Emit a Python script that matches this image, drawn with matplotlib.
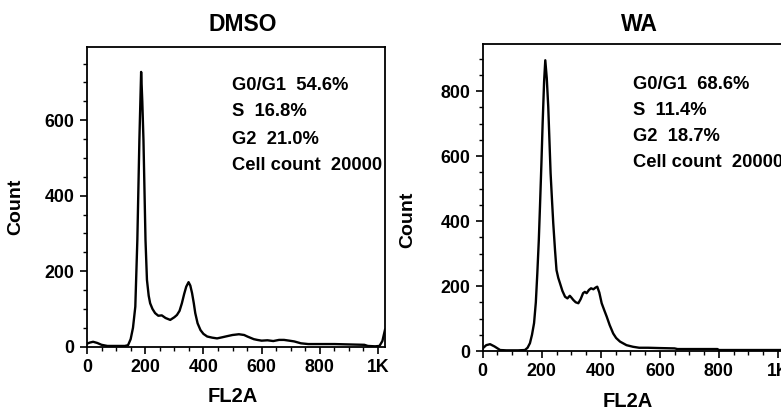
import matplotlib
matplotlib.use("Agg")
import matplotlib.pyplot as plt
from matplotlib.ticker import MultipleLocator, FixedLocator

plt.rcParams['font.family'] = ['Liberation Sans', 'DejaVu Sans']
plt.rcParams['font.weight'] = 'bold'

# ---- data ----
dmso_x = [0, 10, 21, 35, 50, 70, 100, 130, 141, 150, 158, 166, 173, 180, 186, 190, 194,
          201, 206, 212, 217, 225, 234, 245, 257, 270, 286, 300, 309, 318, 326, 334, 341,
          349, 355, 361, 367, 372, 380, 390, 400, 413, 430, 447, 465, 482, 500, 522, 540,
          551, 573, 585, 600, 620, 640, 660, 677, 695, 712, 735, 760, 800, 850, 900, 953,
          965, 990, 1005, 1015, 1024]
dmso_y = [8, 11, 13, 10, 5, 2, 2, 2, 4, 20, 50, 106, 283, 548, 728, 650, 548,
          283, 177, 135, 115, 100, 89, 82, 83, 76, 71, 78, 84, 95, 115, 140, 159,
          171, 162, 142, 115, 89, 62, 44, 34, 27, 24, 22, 25, 28, 31, 33, 31,
          27, 20, 18, 16, 17, 15, 18, 18, 16, 14, 9, 7, 7, 7, 6, 5,
          2, 1, 2, 15, 45]

wa_x = [0, 12, 25, 40, 59, 80, 120, 143, 152, 160, 167, 174, 180, 185, 190, 194, 199,
        203, 208, 212, 217, 222, 226, 230, 235, 239, 245, 250, 256, 262, 270, 279, 287,
        295, 300, 307, 315, 324, 332, 340, 346, 352, 360, 367, 375, 382, 388, 395, 403,
        412, 420, 430, 442, 452, 465, 487, 509, 530, 560, 600, 650, 660, 795, 800, 900,
        1024]
wa_y = [8, 18, 21, 14, 3, 2, 2, 3, 10, 24, 50, 86, 150, 239, 340, 444, 580,
        700, 830, 895, 840, 752, 650, 547, 460, 393, 310, 249, 225, 208, 185, 167, 162,
        170, 165, 157, 150, 147, 160, 178, 182, 178, 188, 193, 190, 195, 198, 180, 147,
        125, 106, 80, 54, 40, 29, 18, 13, 10, 10, 9, 8, 6, 6, 3, 3,
        3]

titles = ["DMSO", "WA"]
stats = [["G0/G1  54.6%", "S  16.8%", "G2  21.0%", "Cell count  20000"],
         ["G0/G1  68.6%", "S  11.4%", "G2  18.7%", "Cell count  20000"]]
xtick_vals = [0, 200, 400, 600, 800, 1000]
xtick_labels = ["0", "200", "400", "600", "800", "1K"]
ytick_sets = [[0, 200, 400, 600], [0, 200, 400, 600, 800]]

W, H = 781, 411
fig = plt.figure(figsize=(W / 100, H / 100), dpi=100)

def px_axes(l, t, r, b):
    return fig.add_axes([l / W, 1 - b / H, (r - l) / W, (b - t) / H])

ax1 = px_axes(87, 47, 385, 346.7)
ax2 = px_axes(482.7, 44, 785, 351)

cfg = [
    dict(ax=ax1, x=dmso_x, y=dmso_y, ylim=794, title_xy=(0.522, 1.075),
         stat_x=0.485, stat_y=[0.873, 0.784, 0.690, 0.606],
         ylab=(-0.21, 0.466), xlab=(0.49, -0.135)),
    dict(ax=ax2, x=wa_x, y=wa_y, ylim=945, title_xy=(0.52, 1.062),
         stat_x=0.498, stat_y=[0.868, 0.782, 0.699, 0.613],
         ylab=(-0.22, 0.427), xlab=(0.48, -0.135)),
]

for i, c in enumerate(cfg):
    ax = c['ax']
    ax.plot(c['x'], c['y'], color='black', lw=1.7, clip_on=True)
    ax.set_xlim(0, 1024)
    ax.set_ylim(0, c['ylim'])
    ax.xaxis.set_major_locator(FixedLocator(xtick_vals))
    ax.set_xticklabels(xtick_labels)
    ax.xaxis.set_minor_locator(MultipleLocator(50))
    ax.yaxis.set_major_locator(FixedLocator(ytick_sets[i]))
    ax.yaxis.set_minor_locator(MultipleLocator(50))
    ax.tick_params(which='major', direction='out', length=5, width=1.2,
                   labelsize=12.8, pad=4)
    ax.tick_params(which='minor', direction='out', length=3, width=1.0)
    for lab in ax.get_xticklabels() + ax.get_yticklabels():
        lab.set_fontweight('bold')
    for s in ax.spines.values():
        s.set_linewidth(1.3)
    ax.text(c['title_xy'][0], c['title_xy'][1], titles[i], transform=ax.transAxes,
            ha='center', va='center', fontsize=16.5, fontweight='bold')
    for txt, yy in zip(stats[i], c['stat_y']):
        ax.text(c['stat_x'], yy, txt, transform=ax.transAxes, ha='left', va='center',
                fontsize=13.2, fontweight='bold')
    ax.set_ylabel("Count", fontsize=14, fontweight='bold')
    ax.yaxis.set_label_coords(*c['ylab'])
    ax.set_xlabel("FL2A", fontsize=14.5, fontweight='bold')
    ax.xaxis.set_label_coords(*c['xlab'])

fig.savefig("out.png", dpi=100)
